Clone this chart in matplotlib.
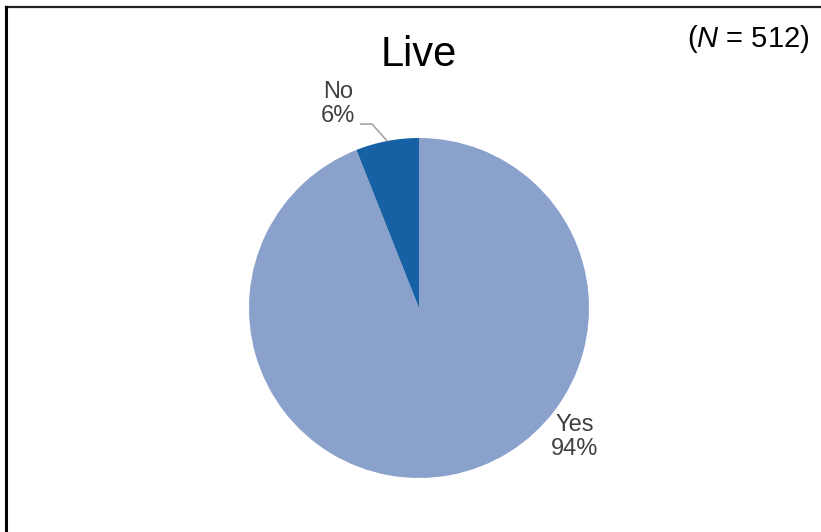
import matplotlib
matplotlib.use("Agg")
import matplotlib.pyplot as plt
from matplotlib.lines import Line2D
import numpy as np

plt.rcParams['font.family'] = ['Liberation Sans', 'DejaVu Sans']
plt.rcParams['mathtext.fontset'] = 'custom'
plt.rcParams['mathtext.rm'] = 'Liberation Sans'
plt.rcParams['mathtext.it'] = 'Liberation Sans:italic'

# survey answers
labels = ['Yes', 'No']
shares = [94, 6]
colors = ['#8AA1CB', '#1660A4']
title = 'Live'
n_total = 512

W, H = 821, 532
fig = plt.figure(figsize=(W / 100, H / 100), dpi=100)

# pie axes: centre (419, 308) px, radius 170 px
cx, cy, r = 419, 308, 170
ax = fig.add_axes([(cx - r) / W, (H - cy - r) / H, 2 * r / W, 2 * r / H])
ax.axis('off')

wedges, _ = ax.pie(shares, colors=colors, startangle=90, counterclock=False,
                   radius=1, wedgeprops=dict(linewidth=0))
ax.set_xlim(-1, 1)
ax.set_ylim(-1, 1)
ax.set_aspect('equal')

txt_color = '#404040'
# Yes label sits just outside the wedge
ax.text(0.918, -0.759, f'{labels[0]}\n{shares[0]}%', ha='center', va='center',
        fontsize=17, color=txt_color, linespacing=1.1)

# No label with a leader line to the middle of its wedge
w = wedges[1]
mid = np.deg2rad((w.theta1 + w.theta2) / 2)
ax.text(-0.476, 1.20, f'{labels[1]}\n{shares[1]}%', ha='center', va='center',
        fontsize=17, color=txt_color, linespacing=1.1)
ax.plot([-0.347, -0.276, np.cos(mid)], [1.082, 1.082, np.sin(mid)],
        color='#A6A6A6', lw=1.2, clip_on=False, solid_capstyle='butt')

fig.text(cx / W, 1 - 55 / H, title, ha='center', va='center', fontsize=30,
         color='black')
fig.text(748 / W, 1 - 39 / H, f'($\\mathit{{N}}$ = {n_total})', ha='center',
         va='center', fontsize=21, color='black')

# frame around the chart area (top and left edges visible)
fig.add_artist(Line2D([6 / W, 1.01], [1 - 6.5 / H, 1 - 6.5 / H],
                      transform=fig.transFigure, color='#222222', lw=1.6))
fig.add_artist(Line2D([6 / W, 6 / W], [1 - 6.5 / H, -0.01],
                      transform=fig.transFigure, color='black', lw=2.2))

fig.savefig('out.png', dpi=100)
